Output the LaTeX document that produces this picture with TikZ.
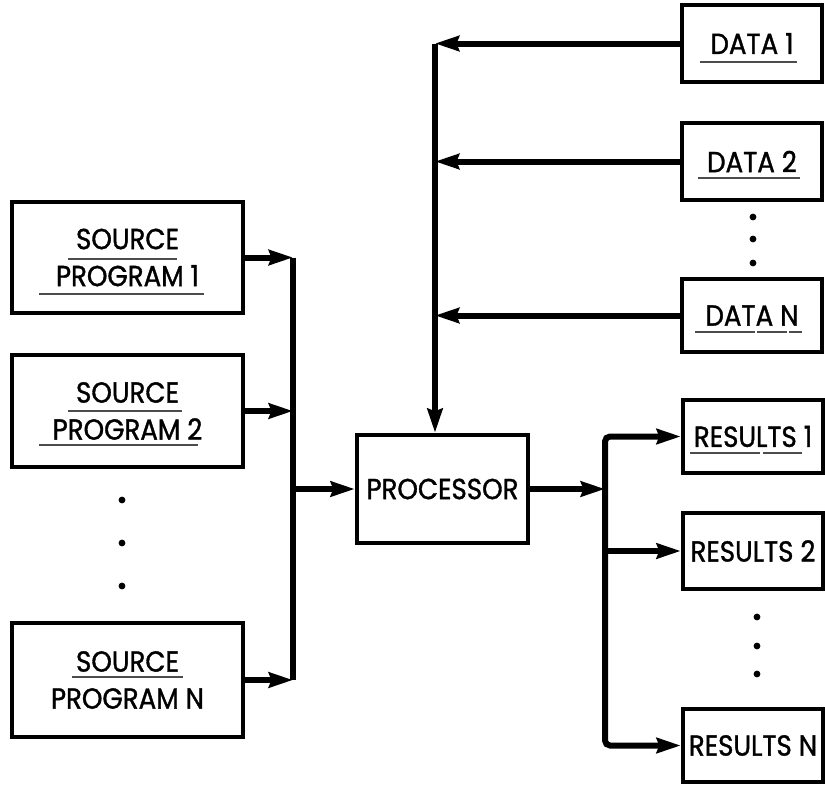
\documentclass[tikz,border=0pt]{standalone}
\usepackage{fontspec}
\newfontfamily\lbl{Poppins}[FakeStretch=0.9, FakeBold=1.2]
\usetikzlibrary{arrows.meta}
\begin{document}
\begin{tikzpicture}[x=1pt,y=-1pt,
  box/.style={draw, line width=4.4pt, inner sep=0pt, align=center,
    font=\lbl\fontsize{29}{37}\selectfont},
  conn/.style={line width=6pt},
  tip/.tip={Stealth[length=24pt,width=15pt,inset=2.5pt]},
  arr/.style={line width=6pt, -tip},
  uline/.style={line width=1.1pt, black!70},
  dot/.style={black}]
\useasboundingbox (0,0) rectangle (825,785);

% source programs
\node[box, minimum width=231pt, minimum height=111pt] (s1) at (127.5,257.5) {SOURCE\\PROGRAM 1};
\node[box, minimum width=231pt, minimum height=112pt] (s2) at (127.5,411) {SOURCE\\PROGRAM 2};
\node[box, minimum width=231pt, minimum height=114pt] (sN) at (127.5,680) {SOURCE\\PROGRAM N};

% processor
\node[box, minimum width=171pt, minimum height=108pt] (proc) at (442.5,489) {PROCESSOR};

% data inputs
\node[box, minimum width=140pt, minimum height=77pt] (d1) at (752,43.5) {DATA 1};
\node[box, minimum width=140pt, minimum height=77pt] (d2) at (752,161.5) {DATA 2};
\node[box, minimum width=140pt, minimum height=73pt] (dN) at (752,315.5) {DATA N};

% results
\node[box, minimum width=140pt, minimum height=73pt] (r1) at (753,436.5) {RESULTS 1};
\node[box, minimum width=140pt, minimum height=76pt] (r2) at (753,551) {RESULTS 2};
\node[box, minimum width=140pt, minimum height=73pt] (rN) at (753,745.5) {RESULTS N};

% bus positions
\coordinate (sbus) at (293,0);
\coordinate (dbus) at (435,0);
\coordinate (rbus) at (605,0);

% source bus into processor
\draw[conn] (s1.east -| sbus) -- (sN.east -| sbus);
\foreach \s in {s1,s2,sN} \draw[arr] (\s.east) -- (\s.east -| sbus);
\draw[arr] (proc.west -| sbus) -- (proc.west);

% data bus into processor
\draw[arr] (d1.west -| dbus) -- (dbus |- proc.north);
\foreach \d in {d1,d2,dN} \draw[arr] (\d.west) -- (\d.west -| dbus);

% processor to results
\draw[arr] (proc.east) -- (proc.east -| rbus);
\draw[line width=6pt, rounded corners=5pt, tip-tip]
  (r1.west) -- (r1.west -| rbus) -- (rN.west -| rbus) -- (rN.west);
\draw[arr] (r2.west -| rbus) -- (r2.west);

% continuation dots
\foreach \y in {500,543,586} \fill[dot] (122,\y) circle (3.4pt);
\foreach \y in {217,239,263} \fill[dot] (753,\y) circle (3.4pt);
\foreach \y in {617,646,674} \fill[dot] (757,\y) circle (3.4pt);

% underlines
\draw[uline] (68,259) -- (177,259);
\draw[uline] (39,294) -- (204,294);
\draw[uline] (68,411) -- (182,411);
\draw[uline] (39,445) -- (198,445);
\draw[uline] (72,677) -- (183,677);
\draw[uline] (700,62) -- (797,62);
\draw[uline] (698,178) -- (800,178);
\draw[uline, dash pattern=on 60pt off 2pt on 30pt off 2pt] (695,332) -- (802,332);
\draw[uline, dash pattern=on 70pt off 3pt on 40pt off 3pt] (690,453) -- (802,453);
\end{tikzpicture}
\end{document}
